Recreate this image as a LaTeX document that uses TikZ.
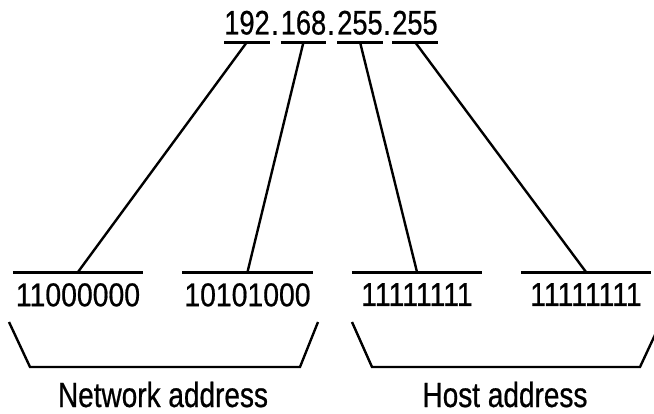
\documentclass[tikz,border=0pt]{standalone}
\usepackage{fontspec}
\setmainfont{Liberation Sans}
\newfontfamily\octetfont[FakeStretch=0.8,FakeBold=0.6]{Liberation Sans}
\newfontfamily\bitsfont[FakeStretch=0.86,FakeBold=0.6]{Liberation Sans}
\newfontfamily\partfont[FakeStretch=0.8,FakeBold=0.6]{Liberation Sans}
\usetikzlibrary{positioning}

\tikzset{
    octet/.style={inner xsep=0pt, inner ysep=7pt, anchor=south,
        font=\octetfont\fontsize{34}{40}\selectfont},
    bits/.style={inner xsep=0pt, inner ysep=11pt, anchor=north, minimum width=130pt,
        font=\bitsfont\fontsize{33}{38}\selectfont},
    part/.style={inner sep=0pt, anchor=base,
        font=\partfont\fontsize{35}{40}\selectfont},
    bar/.style={line width=3pt},
    link/.style={line width=2.4pt},
    brace/.style={line width=2.4pt, line join=miter}
}

\begin{document}
\begin{tikzpicture}[x=1pt,y=-1pt]
    \useasboundingbox (0,0) rectangle (654,413);
    \clip (0,0) rectangle (654,413);

    % Dotted decimal address
    \node[octet] (o1) at (247,42) {192};
    \node[octet] (d1) at (275,42) {.};
    \node[octet] (o2) at (303.5,42) {168};
    \node[octet] (d2) at (331,42) {.};
    \node[octet] (o3) at (360,42) {255};
    \node[octet] (d3) at (387,42) {.};
    \node[octet] (o4) at (415,42) {255};

    % Binary octets
    \node[bits] (b1) at (78,272) {11000000};
    \node[bits] (b2) at (247.5,272) {10101000};
    \node[bits] (b3) at (417,272) {11111111};
    \node[bits] (b4) at (586,272) {11111111};

    % Underlines, overlines and links
    \foreach \i in {1,...,4} {
        \draw[bar] (o\i.south west) -- (o\i.south east);
        \draw[bar] (b\i.north west) -- (b\i.north east);
        \draw[link] (o\i.south) -- (b\i.north);
    }

    % Brackets
    \draw[brace] (9,322) -- (30,367) -- (300,367) -- (318,322);
    \draw[brace] (352,322) -- (372,367) -- (640,367) -- (661,322);

    % Add labels
    \node[part] (net) at (163,407) {Network address};
    \node[part] (host) at (505,407) {Host address};
\end{tikzpicture}
\end{document}
